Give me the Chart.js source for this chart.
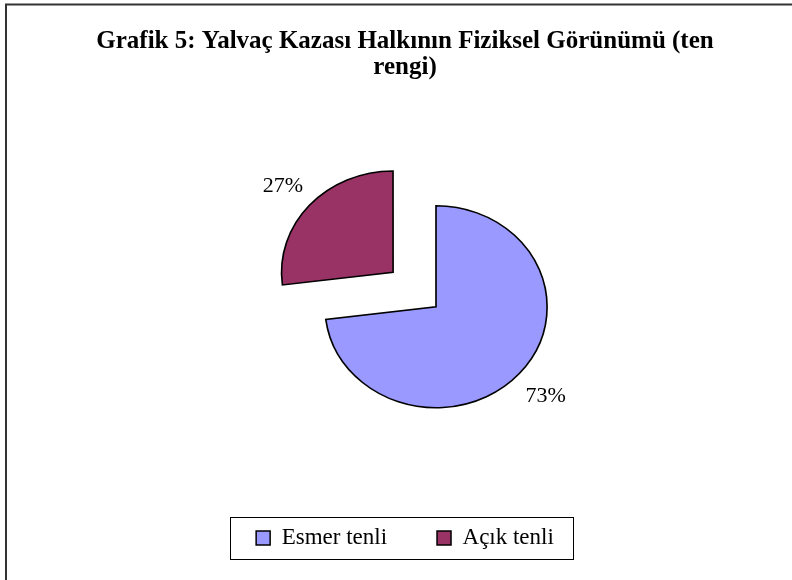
<!DOCTYPE html>
<html>
<head>
<meta charset="utf-8">
<script src="https://cdn.jsdelivr.net/npm/chart.js@4/dist/chart.umd.min.js"></script>
<style>
  html, body { margin: 0; padding: 0; background: #fff; }
  #chart { display: block; }
</style>
</head>
<body>
<canvas id="chart" width="792" height="580"></canvas>
<script>
const categories = ["Esmer tenli", "Açık tenli"];
const shares = [73, 27];
const titleLines = ["Grafik 5: Yalvaç Kazası Halkının Fiziksel Görünümü (ten", "rengi)"];

const sliceColors = ["#9999FF", "#993366"];
// only the small slice is pulled out; Chart.js grows big slices instead of moving them
const sliceOffsets = [0, 208];
const stretchX = 1.1; // the original pie is a bit wider than tall
const pieShiftX = 31; // pie sits right of the title/legend centre
const serif = "'Liberation Serif', 'Times New Roman', serif";

// white page plus the two visible frame edges, and the box round the legend
const framePlugin = {
  id: "frame",
  beforeDraw(chart) {
    const ctx = chart.ctx;
    ctx.save();
    ctx.fillStyle = "#fff";
    ctx.fillRect(0, 0, chart.width, chart.height);
    ctx.strokeStyle = "#333";
    ctx.lineWidth = 2;
    ctx.beginPath();
    ctx.moveTo(6, chart.height);
    ctx.lineTo(6, 4.5);
    ctx.lineTo(chart.width, 4.5);
    ctx.stroke();
    ctx.restore();
  },
  afterDraw(chart) {
    const boxes = chart.legend.legendHitBoxes;
    if (!boxes || !boxes.length) return;
    const first = boxes[0];
    const last = boxes[boxes.length - 1];
    const left = Math.round(first.left - 26) + 0.5;
    const right = Math.round(last.left + last.width + 19) + 0.5;
    const top = Math.round(first.top - 9.5) + 0.5;
    const ctx = chart.ctx;
    ctx.save();
    ctx.strokeStyle = "#000";
    ctx.lineWidth = 1;
    ctx.strokeRect(left, top, right - left, 42);
    ctx.restore();
  }
};

// stretch the pie horizontally and put the percent labels outside it
const stretchPlugin = {
  id: "stretch",
  beforeDatasetsDraw(chart) {
    const arc = chart.getDatasetMeta(0).data[0];
    const ctx = chart.ctx;
    ctx.save();
    ctx.translate(arc.x + pieShiftX, arc.y);
    ctx.scale(stretchX, 1);
    ctx.translate(-arc.x, -arc.y);
  },
  afterDatasetsDraw(chart) {
    const ctx = chart.ctx;
    ctx.restore();
    ctx.save();
    ctx.font = "22px " + serif;
    ctx.fillStyle = "#000";
    ctx.textAlign = "center";
    ctx.textBaseline = "middle";
    chart.getDatasetMeta(0).data.forEach((a, i) => {
      const mid = (a.startAngle + a.endAngle) / 2;
      const circ = a.endAngle - a.startAngle;
      const fix = 1 - Math.sin(Math.min(Math.PI, circ));
      const shift = (a.options.offset || 0) / 4 * (1 + fix);
      const dist = shift + a.outerRadius + 32;
      const x = a.x + pieShiftX + stretchX * Math.cos(mid) * dist;
      const y = a.y + Math.sin(mid) * dist + 2;
      ctx.fillText(shares[i] + "%", x, y);
    });
    ctx.restore();
  }
};

new Chart(document.getElementById("chart"), {
  type: "pie",
  data: {
    labels: categories,
    datasets: [{
      data: shares,
      backgroundColor: sliceColors,
      borderColor: "#000",
      borderWidth: 1.5,
      borderJoinStyle: "miter",
      offset: sliceOffsets
    }]
  },
  options: {
    responsive: false,
    animation: false,
    events: [],
    radius: 101,
    layout: { padding: { left: 18, right: 0, top: 0, bottom: 20.5 } },
    plugins: {
      title: {
        display: true,
        text: titleLines,
        color: "#000",
        font: { family: serif, size: 25, weight: "bold", lineHeight: 26 / 25 },
        padding: { top: 29, bottom: 56 }
      },
      legend: {
        position: "bottom",
        labels: {
          color: "#000",
          font: { family: serif, size: 23 },
          boxWidth: 14,
          boxHeight: 14,
          padding: 50
        }
      },
      tooltip: { enabled: false }
    }
  },
  plugins: [framePlugin, stretchPlugin]
});
</script>
</body>
</html>
